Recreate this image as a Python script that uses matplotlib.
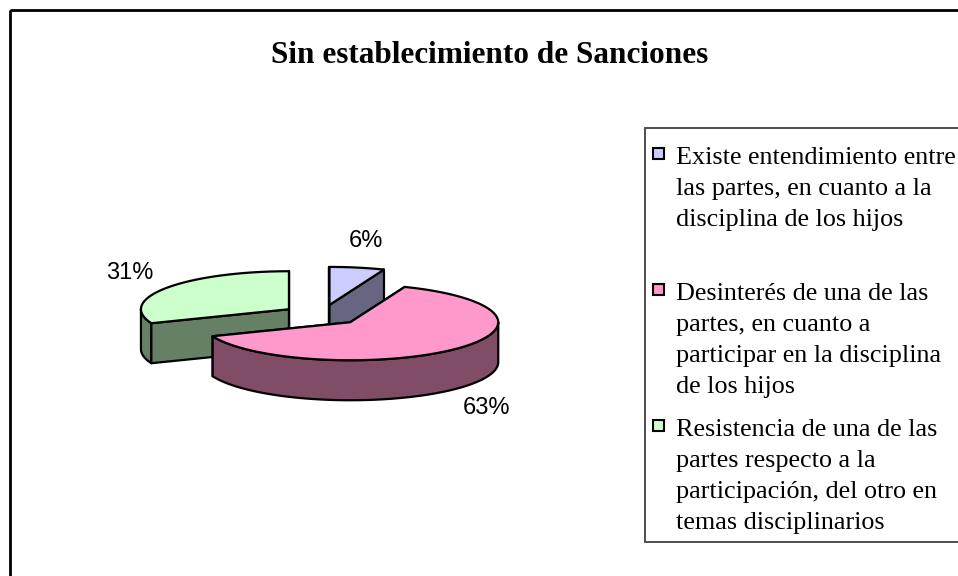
import numpy as np
import matplotlib
matplotlib.use("Agg")
import matplotlib.pyplot as plt
from matplotlib.patches import Polygon, Rectangle

# data
title = "Sin establecimiento de Sanciones"
labels = [
    "Existe entendimiento entre\nlas partes, en cuanto a la\ndisciplina de los hijos",
    "Desinterés de una de las\npartes, en cuanto a\nparticipar en la disciplina\nde los hijos",
    "Resistencia de una de las\npartes respecto a la\nparticipación, del otro en\ntemas disciplinarios",
]
values = [6, 63, 31]
top_colors = ["#CCCCFF", "#FF99CC", "#CCFFCC"]
side_colors = ["#666680", "#804C66", "#668066"]

# layout of the 3d pie (pixels, y grows downward)
CX, CY = 322, 315
RX, RY = 148, 38
DEPTH = 40
EXPLODE = 0.27

fig = plt.figure(figsize=(9.58, 5.76), dpi=100)
ax = fig.add_axes([0, 0, 1, 1])
ax.set_xlim(0, 958)
ax.set_ylim(576, 0)
ax.axis("off")


def pt(theta, ox, oy, r=1.0, dz=0.0):
    t = np.radians(theta)
    return ox + r * RX * np.sin(t), oy - r * RY * np.cos(t) + dz


def arc(a0, a1, ox, oy, dz=0.0, n=60):
    th = np.linspace(a0, a1, n)
    x, y = pt(th, ox, oy, dz=dz)
    return np.column_stack([x, y])


def draw(poly, color, z):
    ax.add_patch(Polygon(poly, closed=True, facecolor=color, edgecolor="black",
                         lw=1.6, joinstyle="round", zorder=z))


# slice angles, clockwise from 12 o'clock like Excel
fracs = np.array(values) / np.sum(values)
ends = np.cumsum(fracs) * 360
starts = ends - fracs * 360
mids = (starts + ends) / 2

# back slices first
order = np.argsort(-np.cos(np.radians(mids)))
z = 1
for i in order:
    s, e, m = starts[i], ends[i], mids[i]
    ox = CX + EXPLODE * RX * np.sin(np.radians(m))
    oy = CY - EXPLODE * RY * np.cos(np.radians(m))
    apex = np.array([ox, oy])

    walls_back, walls_front = [], []
    for ang, front in [(s, np.sin(np.radians(s)) < -1e-6), (e, np.sin(np.radians(e)) > 1e-6)]:
        px, py = pt(ang, ox, oy)
        quad = [apex, (px, py), (px, py + DEPTH), (ox, oy + DEPTH)]
        (walls_front if front else walls_back).append(quad)

    for q in walls_back:
        draw(q, side_colors[i], z); z += 1

    lo, hi = max(s, 90), min(e, 270)
    if hi > lo:
        upper = arc(lo, hi, ox, oy)
        lower = arc(hi, lo, ox, oy, dz=DEPTH)
        draw(np.vstack([upper, lower]), side_colors[i], z); z += 1

    for q in walls_front:
        draw(q, side_colors[i], z); z += 1

    top = np.vstack([apex, arc(s, e, ox, oy)])
    draw(top, top_colors[i], z); z += 1

    # percent label outside the slice
    ax_, ay_ = pt(m, ox, oy)
    if np.cos(np.radians(m)) < 0:
        ay_ += DEPTH
    tx = ax_ + 44 * np.sin(np.radians(m))
    ty = ay_ - 27 * np.cos(np.radians(m))
    ax.text(tx, ty, f"{values[i]}%", ha="center", va="center",
            fontsize=17, family="Liberation Sans", zorder=50)

# chart frame
ax.add_patch(Rectangle((10, 10), 2000, 2000, fill=False, edgecolor="black", lw=2, zorder=0))

ax.text(490, 63, title, ha="center", va="baseline", fontsize=22.5,
        fontweight="bold", family="Liberation Serif")

# legend
ax.add_patch(Rectangle((645, 128), 400, 414, facecolor="white", edgecolor="#404040",
                       lw=1.3, zorder=60))
first_line = 156
slot = 136
pitch = 31
for i, lab in enumerate(labels):
    y0 = first_line + i * slot
    ax.add_patch(Rectangle((653, y0 - 8), 11, 11, facecolor=top_colors[i],
                           edgecolor="black", lw=1.5, zorder=61))
    for j, line in enumerate(lab.split("\n")):
        ax.text(676, y0 + 8 + j * pitch, line, ha="left", va="baseline",
                fontsize=18.8, family="Liberation Serif", zorder=62)

fig.savefig("out.png", dpi=100, facecolor="white")
